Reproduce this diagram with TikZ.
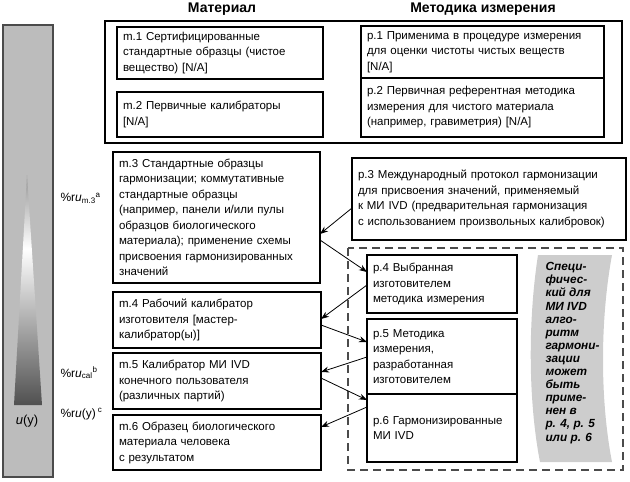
\documentclass[tikz,border=0pt]{standalone}
\usepackage{fontspec}
\setmainfont{Liberation Sans}
\usetikzlibrary{arrows.meta}
\definecolor{bargray}{RGB}{188,188,188}
\definecolor{bandgray}{RGB}{205,205,205}
\definecolor{edgegray}{RGB}{75,75,75}
\definecolor{tritop}{RGB}{150,150,150}
\definecolor{tridark}{RGB}{80,80,80}
\pgfdeclareverticalshading{ushade}{100bp}{color(0bp)=(tridark); color(25bp)=(tridark); color(59bp)=(white); color(75bp)=(tritop); color(100bp)=(tritop)}
\tikzset{
  box/.style={draw, line width=1.6pt, anchor=north west, align=left, outer sep=0pt,
    inner xsep=6pt, font=\fontsize{11.5}{15.5}\selectfont},
  head/.style={font=\bfseries\fontsize{14}{16}\selectfont},
  link/.style={-{Stealth[length=8pt,width=6pt]}, line width=0.8pt},
  ulabel/.style={anchor=west, font=\fontsize{12}{14}\selectfont},
}

\begin{document}
\begin{tikzpicture}[x=1pt,y=-1pt]
  \useasboundingbox (0,0) rectangle (630,482);
  \draw[fill=bargray, draw=edgegray, line width=1.5pt] (3,25) rectangle (53,477);
  \shade[shading=ushade] (27,175) -- (42,405) -- (14,405) -- cycle;
  \node[font=\fontsize{13}{15}\selectfont] (uy) at (27,421) {\textit{u}(y)};
  \node[ulabel] (um3) at (57,198) {\%r\textit{u}\textsubscript{m.3}\textsuperscript{a}};
  \node[ulabel] (ucal) at (57,373) {\%r\textit{u}\textsubscript{cal}\textsuperscript{b}};
  \node[ulabel] (uyc) at (57,414) {\%r\textit{u}(y)\,\textsuperscript{c}};

  \node[head] (hmat) at (222,9) {Материал};
  \node[head] (hmet) at (483,9) {Методика измерения};

  \draw[line width=1.6pt] (105,21) rectangle (622,143);
  \node[box, minimum width=206, minimum height=52, text width=194] (m1) at (117,27)
    {m.1 Сертифицированные\\стандартные образцы (чистое\\вещество) [N/A]};
  \node[box, minimum width=206, minimum height=45, text width=194] (m2) at (117,92)
    {m.2 Первичные калибраторы\\{}[N/A]};
  \node[box, minimum width=243, minimum height=52, text width=231] (p1) at (361,26)
    {р.1 Применима в процедуре измерения\\для оценки чистоты чистых веществ\\{}[N/A]};
  \node[box, minimum width=243, minimum height=59, text width=231] (p2) at (361,78)
    {р.2 Первичная референтная методика\\измерения для чистого материала\\(например, гравиметрия) [N/A]};

  \node[box, minimum width=207, minimum height=131, text width=195] (m3) at (113,152)
    {m.3 Стандартные образцы\\гармонизации; коммутативные\\стандартные образцы\\(например, панели и/или пулы\\образцов биологического\\материала); применение схемы\\присвоения гармонизированных\\значений};
  \node[box, minimum width=208, minimum height=56, text width=196] (m4) at (113,292)
    {m.4 Рабочий калибратор\\изготовителя [мастер-\\калибратор(ы)]};
  \node[box, minimum width=208, minimum height=56, text width=196] (m5) at (113,353)
    {m.5 Калибратор МИ IVD\\конечного пользователя\\(различных партий)};
  \node[box, minimum width=208, minimum height=55, text width=196] (m6) at (113,415)
    {m.6 Образец биологического\\материала человека\\с результатом};

  \node[box, minimum width=274, minimum height=82, text width=262] (p3) at (352,158)
    {р.3 Международный протокол гармонизации\\для присвоения значений, применяемый\\к МИ IVD (предварительная гармонизация\\с использованием произвольных калибровок)};
  \draw[edgegray, line width=1.4pt, dash pattern=on 8pt off 5pt] (348,248) rectangle (623,470);
  \node[box, minimum width=150, minimum height=58, text width=138] (p4) at (367,255)
    {р.4 Выбранная\\изготовителем\\методика измерения};
  \node[box, minimum width=150, minimum height=75, text width=138] (p5) at (367,319)
    {р.5 Методика\\измерения,\\разработанная\\изготовителем};
  \node[box, minimum width=150, minimum height=68, text width=138] (p6) at (367,394)
    {р.6 Гармонизированные\\МИ IVD};

  \fill[bandgray] (538,255) .. controls (528,320) and (528,400) .. (540,462) -- (612,462)
    .. controls (600,400) and (600,320) .. (612,255) -- cycle;
  \node[anchor=north west, align=left, font=\bfseries\itshape\fontsize{11.8}{13.1}\selectfont] (note) at (542,259)
    {Специ-\\фичес-\\кий для\\МИ IVD\\алго-\\ритм\\гармони-\\зации\\может\\быть\\приме-\\нен в\\р. 4, р. 5\\или р. 6};

  \draw[link] ([yshift=32pt]p3.south west) -- ([yshift=49pt]m3.south east);
  \draw[link] ([yshift=43pt]m3.south east) -- ([yshift=-17pt]p4.north west);
  \draw[link] ([yshift=28pt]p4.south west) -- ([yshift=-27pt]m4.north east);
  \draw[link] ([yshift=23pt]m4.south east) -- ([yshift=-23pt]p5.north west);
  \draw[link] ([yshift=37pt]p5.south west) -- ([yshift=-19pt]m5.north east);
  \draw[link] ([yshift=31pt]m5.south east) -- ([yshift=-6pt]p6.north west);
  \draw[link] ([yshift=-13pt]p6.north west) -- ([yshift=-12pt]m6.north east);
\end{tikzpicture}
\end{document}
